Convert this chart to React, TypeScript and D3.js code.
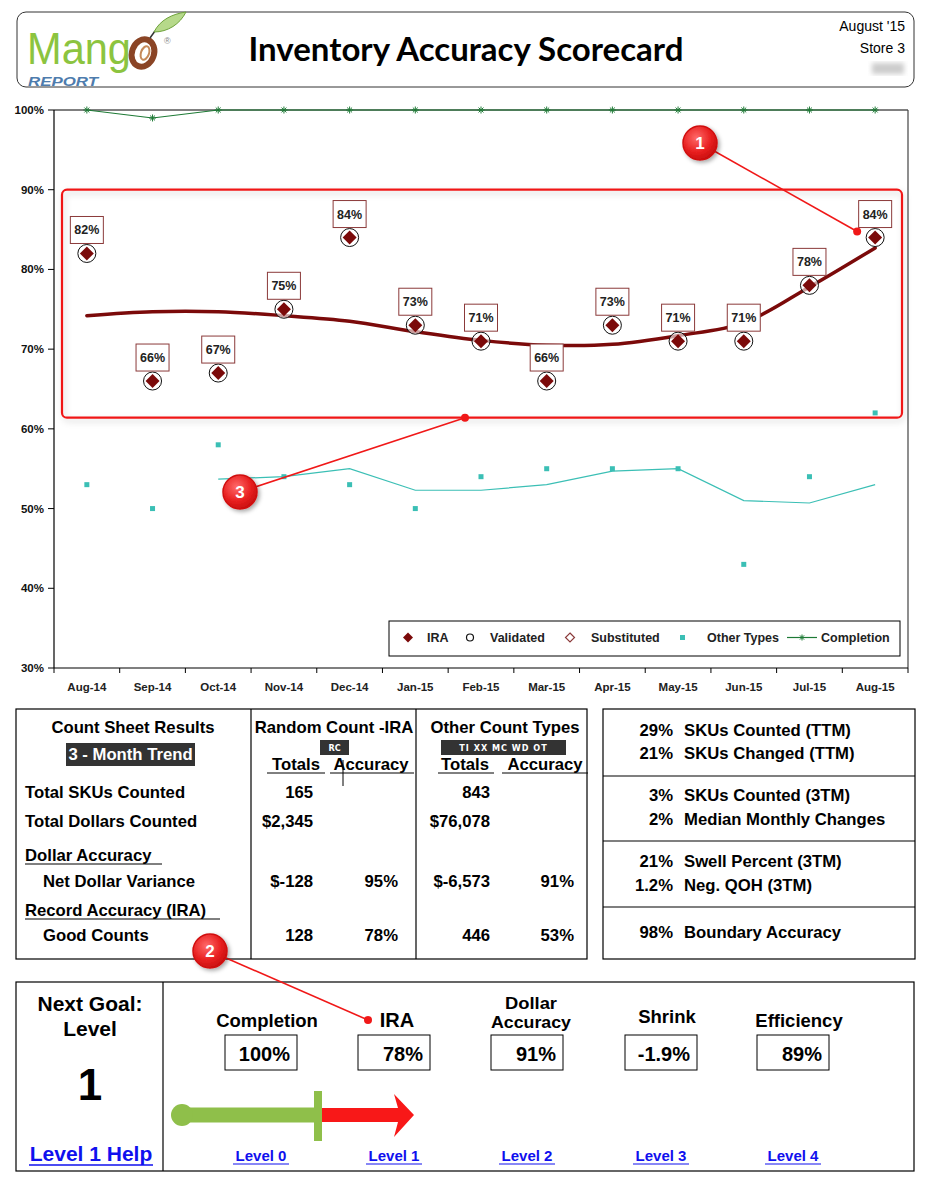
import React from 'react';
import * as d3 from 'd3';

const months = ['Aug-14','Sep-14','Oct-14','Nov-14','Dec-14','Jan-15','Feb-15','Mar-15','Apr-15','May-15','Jun-15','Jul-15','Aug-15'];
const iraValues = [82,66,67,75,84,73,71,66,73,71,71,78,84];
const validated = [true,true,true,true,true,true,true,true,true,true,true,true,true];
const iraTrend = [74.2,74.7,74.7,74.2,73.5,72.2,71.1,70.5,70.6,71.7,73.3,77.8,82.7];
const otherTypes = [53,50,58,54,53,50,54,55,55,55,43,54,62];
const otherTrend: (number|null)[] = [null,null,53.7,54,55,52.3,52.3,53,54.7,55,51,50.7,53];
const completion = [100,99,100,100,100,100,100,100,100,100,100,100,100];
const yTicks = [30,40,50,60,70,80,90,100];

const rcRows = [
  { label: 'Total SKUs Counted', indent: false, rcTot: '165', rcAcc: '', otTot: '843', otAcc: '' },
  { label: 'Total Dollars Counted', indent: false, rcTot: '$2,345', rcAcc: '', otTot: '$76,078', otAcc: '' },
  { label: 'Net Dollar Variance', indent: true, rcTot: '$-128', rcAcc: '95%', otTot: '$-6,573', otAcc: '91%' },
  { label: 'Good Counts', indent: true, rcTot: '128', rcAcc: '78%', otTot: '446', otAcc: '53%' },
];
const rowY = [793, 822, 882, 936];
const sideStats = [
  ['29%','SKUs Counted (TTM)'],['21%','SKUs Changed (TTM)'],
  ['3%','SKUs Counted (3TM)'],['2%','Median Monthly Changes'],
  ['21%','Swell Percent (3TM)'],['1.2%','Neg. QOH (3TM)'],
  ['98%','Boundary Accuracy'],
];
const sideY = [731,754,796,820,862,886,933];
const goalNames = [['Completion'],['IRA'],['Dollar','Accuracy'],['Shrink'],['Efficiency']];
const goalValues = ['100%','78%','91%','-1.9%','89%'];
const levels = ['Level 0','Level 1','Level 2','Level 3','Level 4'];

const AR = 'Arial, "Liberation Sans", sans-serif';
const DR = '#7b0a0a';
const TEAL = '#3bbfb5';
const GREEN = '#1d7a35';

function Callout({ cx, cy, tx, ty, n }: { cx: number; cy: number; tx: number; ty: number; n: string }) {
  return (
    <g>
      <line x1={cx} y1={cy} x2={tx} y2={ty} stroke="#f01818" strokeWidth={1.6} />
      <circle cx={tx} cy={ty} r={4} fill="#f01818" />
      <circle cx={cx} cy={cy} r={17} fill="url(#calloutGrad)" stroke="#d01010" strokeWidth={1.5} filter="url(#shadow)" />
      <text x={cx} y={cy + 6} textAnchor="middle" fill="#fff" fontFamily={AR} fontWeight="bold" fontSize={17}>{n}</text>
    </g>
  );
}

function Asterisk({ x, y, s = 3.5, color }: { x: number; y: number; s?: number; color: string }) {
  return (
    <g stroke={color} strokeWidth={1}>
      <line x1={x - s} y1={y} x2={x + s} y2={y} />
      <line x1={x} y1={y - s} x2={x} y2={y + s} />
      <line x1={x - s * 0.7} y1={y - s * 0.7} x2={x + s * 0.7} y2={y + s * 0.7} />
      <line x1={x - s * 0.7} y1={y + s * 0.7} x2={x + s * 0.7} y2={y - s * 0.7} />
    </g>
  );
}

export default function App() {
  const x = d3.scaleBand<string>().domain(months).range([54, 908]).padding(0);
  const y = d3.scaleLinear().domain([30, 100]).range([668, 110]);
  const cx = (m: string) => (x(m) as number) + x.bandwidth() / 2;

  const trendLine = d3.line<number>().x((_, i) => cx(months[i])).y(d => y(d)).curve(d3.curveCatmullRom.alpha(0.5));
  const otherLine = d3.line<number | null>().defined(d => d !== null).x((_, i) => cx(months[i])).y(d => y(d as number));
  const compLine = d3.line<number>().x((_, i) => cx(months[i])).y(d => y(d));

  const diamond = (px: number, py: number, s: number) => `M${px},${py - s}L${px + s},${py}L${px},${py + s}L${px - s},${py}Z`;

  const goalX = [261, 394, 527, 661, 793];
  const FS = 16.7;

  return (
    <div style={{ position: 'absolute', left: 0, top: 0 }}>
      <svg width={928} height={1179} style={{ display: 'block', background: '#fff' }}>
        <defs>
          <radialGradient id="calloutGrad" cx="40%" cy="35%" r="70%">
            <stop offset="0%" stopColor="#ff6a6a" />
            <stop offset="60%" stopColor="#e82020" />
            <stop offset="100%" stopColor="#c40c0c" />
          </radialGradient>
          <filter id="shadow" x="-50%" y="-50%" width="200%" height="200%">
            <feDropShadow dx="2" dy="2" stdDeviation="2" floodColor="#000" floodOpacity="0.35" />
          </filter>
          <filter id="softShadow" x="-5%" y="-5%" width="110%" height="110%">
            <feDropShadow dx="2" dy="3" stdDeviation="3" floodColor="#000" floodOpacity="0.18" />
          </filter>
          <filter id="blur"><feGaussianBlur stdDeviation="2.5" /></filter>
        </defs>

        {/* Header */}
        <rect x={17} y={12} width={897} height={75} rx={9} fill="#fff" stroke="#333" strokeWidth={1} />
        <text x={27} y={64} fill="#8cc43f" fontFamily={AR} fontSize={44} textLength={104} lengthAdjust="spacingAndGlyphs">Mang</text>
        <ellipse cx={143} cy={53} rx={11} ry={14} fill="none" stroke="#8a4425" strokeWidth={6} transform="rotate(20 143 53)" />
        <ellipse cx={145} cy={53} rx={4} ry={7} fill="none" stroke="#c58a5a" strokeWidth={2} transform="rotate(20 145 53)" />
        <line x1={150} y1={38} x2={155} y2={31} stroke="#333" strokeWidth={1.5} />
        <path d="M154,32 C160,20 172,14 186,12 C180,24 168,32 154,32 Z" fill="#b6d98a" stroke="#6ea23a" strokeWidth={1} />
        <text x={164} y={44} fill="#888" fontFamily={AR} fontSize={9}>®</text>
        <text x={28} y={86} fill="#4e7cad" fontFamily={AR} fontWeight="bold" fontStyle="italic" fontSize={13} textLength={70} lengthAdjust="spacingAndGlyphs">REPORT</text>
        <text x={466} y={61} textAnchor="middle" fontFamily='Lato, "Open Sans", sans-serif' fontWeight="bold" fontSize={33} fill="#000">Inventory Accuracy Scorecard</text>
        <text x={905} y={31} textAnchor="end" fontFamily={AR} fontSize={14}>August '15</text>
        <text x={905} y={53} textAnchor="end" fontFamily={AR} fontSize={14}>Store 3</text>
        <rect x={872} y={63} width={32} height={11} fill="#ccc" filter="url(#blur)" />

        {/* Chart frame */}
        <line x1={54} y1={y(100)} x2={908} y2={y(100)} stroke="#000" strokeWidth={1} />
        <line x1={908} y1={y(100)} x2={908} y2={y(30)} stroke="#444" strokeWidth={1.2} />
        <line x1={54} y1={y(100)} x2={54} y2={y(30)} stroke="#000" strokeWidth={1.2} />
        <line x1={54} y1={y(30)} x2={908} y2={y(30)} stroke="#000" strokeWidth={1.2} />
        {yTicks.map(t => (
          <g key={t}>
            <line x1={48} y1={y(t)} x2={54} y2={y(t)} stroke="#000" />
            <text x={44} y={y(t) + 4} textAnchor="end" fontFamily={AR} fontWeight="bold" fontSize={11.5} fill="#111">{t}%</text>
          </g>
        ))}
        {months.map((m, i) => (
          <g key={m}>
            <line x1={(x(m) as number)} y1={y(30)} x2={(x(m) as number)} y2={y(30) + 5} stroke="#000" />
            {i === months.length - 1 && <line x1={908} y1={y(30)} x2={908} y2={y(30) + 5} stroke="#000" />}
            <text x={cx(m)} y={691} textAnchor="middle" fontFamily={AR} fontWeight="bold" fontSize={11.5} fill="#222">{m}</text>
          </g>
        ))}

        {/* Highlight box */}
        <rect x={62} y={y(90)} width={840} height={y(61.4) - y(90)} rx={5} fill="none" stroke="#f01818" strokeWidth={2.2} filter="url(#softShadow)" />

        {/* Completion */}
        <path d={compLine(completion) as string} fill="none" stroke={GREEN} strokeWidth={1.2} />
        {completion.map((v, i) => <Asterisk key={i} x={cx(months[i])} y={y(v)} color={GREEN} />)}

        {/* Other types */}
        <path d={otherLine(otherTrend) as string} fill="none" stroke={TEAL} strokeWidth={1.2} />
        {otherTypes.map((v, i) => (
          <rect key={i} x={cx(months[i]) - 2.5} y={y(v) - 2.5} width={5} height={5} fill={TEAL} />
        ))}

        {/* IRA trend */}
        <path d={trendLine(iraTrend) as string} fill="none" stroke={DR} strokeWidth={3.5} strokeLinecap="round" />

        {/* IRA points */}
        {iraValues.map((v, i) => {
          const px = cx(months[i]);
          const py = y(v);
          return (
            <g key={i}>
              {validated[i] && <circle cx={px} cy={py} r={9} fill="#fff" fillOpacity={0.6} stroke="#111" strokeWidth={1} />}
              <path d={diamond(px, py, 7)} fill={DR} />
              <rect x={px - 16.5} y={py - 37} width={33} height={27} fill="#fff" stroke="#8b3a3a" strokeWidth={1} />
              <text x={px} y={py - 19} textAnchor="middle" fontFamily={AR} fontWeight="bold" fontSize={12.5} fill="#222">{v}%</text>
            </g>
          );
        })}

        {/* Legend */}
        <rect x={389} y={621} width={511} height={35} fill="#fff" stroke="#000" strokeWidth={1} />
        <path d={diamond(408, 637.5, 5)} fill={DR} />
        <text x={427} y={642} fontFamily={AR} fontWeight="bold" fontSize={12.5} fill="#222">IRA</text>
        <circle cx={470} cy={637.5} r={3.5} fill="none" stroke="#111" strokeWidth={1.2} />
        <text x={490} y={642} fontFamily={AR} fontWeight="bold" fontSize={12.5} fill="#222">Validated</text>
        <path d={diamond(570, 637.5, 4.5)} fill="#fff" stroke="#8b3a3a" strokeWidth={1.2} />
        <text x={591} y={642} fontFamily={AR} fontWeight="bold" fontSize={12.5} fill="#222">Substituted</text>
        <rect x={680} y={635} width={5} height={5} fill={TEAL} />
        <text x={707} y={642} fontFamily={AR} fontWeight="bold" fontSize={12.5} fill="#222">Other Types</text>
        <line x1={787} y1={637.5} x2={817} y2={637.5} stroke={GREEN} strokeWidth={1.2} />
        <Asterisk x={802} y={637.5} s={3} color={GREEN} />
        <text x={821} y={642} fontFamily={AR} fontWeight="bold" fontSize={12.5} fill="#222">Completion</text>

        {/* Left table */}
        <g fontFamily={AR} fontWeight="bold" fontSize={FS} fill="#000">
          <rect x={16} y={709} width={571} height={250} fill="none" stroke="#000" strokeWidth={1.2} />
          <line x1={251} y1={709} x2={251} y2={959} stroke="#000" strokeWidth={1.2} />
          <line x1={416} y1={709} x2={416} y2={959} stroke="#000" strokeWidth={1.2} />
          <text x={133} y={733} textAnchor="middle">Count Sheet Results</text>
          <rect x={66} y={743} width={129} height={23} fill="#333" />
          <text x={130.5} y={760} textAnchor="middle" fill="#fff">3 - Month Trend</text>
          <text x={334} y={733} textAnchor="middle">Random Count -IRA</text>
          <rect x={320} y={740} width={29} height={15} fill="#333" />
          <text x={334.5} y={751} textAnchor="middle" fill="#fff" fontSize={9} fontFamily='"DejaVu Sans Condensed", "Liberation Sans Narrow", sans-serif'>RC</text>
          <text x={296} y={770} textAnchor="middle">Totals</text>
          <text x={371} y={770} textAnchor="middle">Accuracy</text>
          <line x1={267} y1={773} x2={325} y2={773} stroke="#000" />
          <line x1={330} y1={773} x2={414} y2={773} stroke="#000" />
          <line x1={343} y1={760} x2={343} y2={786} stroke="#000" />
          <text x={505} y={733} textAnchor="middle">Other Count Types</text>
          <rect x={441} y={740} width={125} height={15} fill="#333" />
          <text x={503.5} y={751} textAnchor="middle" fill="#fff" fontSize={9} fontFamily='"DejaVu Sans Condensed", "Liberation Sans Narrow", sans-serif' letterSpacing={1}>TI XX MC WD OT</text>
          <text x={465} y={770} textAnchor="middle">Totals</text>
          <text x={545} y={770} textAnchor="middle">Accuracy</text>
          <line x1={438} y1={773} x2={494} y2={773} stroke="#000" />
          <line x1={502} y1={773} x2={588} y2={773} stroke="#000" />
          {rcRows.map((r, i) => (
            <g key={r.label}>
              <text x={r.indent ? 43 : 25} y={rowY[i] + 5}>{r.label}</text>
              <text x={313} y={rowY[i] + 5} textAnchor="end">{r.rcTot}</text>
              <text x={398} y={rowY[i] + 5} textAnchor="end">{r.rcAcc}</text>
              <text x={490} y={rowY[i] + 5} textAnchor="end">{r.otTot}</text>
              <text x={574} y={rowY[i] + 5} textAnchor="end">{r.otAcc}</text>
            </g>
          ))}
          <text x={25} y={861}>Dollar Accuracy</text>
          <line x1={25} y1={864} x2={162} y2={864} stroke="#000" />
          <text x={25} y={916}>Record Accuracy (IRA)</text>
          <line x1={25} y1={919} x2={220} y2={919} stroke="#000" />
        </g>

        {/* Right stats */}
        <g fontFamily={AR} fontWeight="bold" fontSize={FS} fill="#000">
          <rect x={603} y={709} width={312} height={250} fill="none" stroke="#000" strokeWidth={1.2} />
          {[776, 841, 907].map(v => <line key={v} x1={603} y1={v} x2={915} y2={v} stroke="#000" strokeWidth={1.2} />)}
          {sideStats.map((s, i) => (
            <g key={i}>
              <text x={673} y={sideY[i] + 5} textAnchor="end">{s[0]}</text>
              <text x={684} y={sideY[i] + 5}>{s[1]}</text>
            </g>
          ))}
        </g>

        {/* Bottom goals */}
        <g fontFamily={AR} fontWeight="bold" fill="#000">
          <rect x={16} y={982} width={898} height={189} fill="none" stroke="#000" strokeWidth={1.2} />
          <line x1={163} y1={982} x2={163} y2={1171} stroke="#000" strokeWidth={1.2} />
          <text x={90} y={1011} textAnchor="middle" fontSize={21}>Next Goal:</text>
          <text x={90} y={1036} textAnchor="middle" fontSize={21}>Level</text>
          <text x={90} y={1100} textAnchor="middle" fontSize={44}>1</text>
          <text x={91} y={1161} textAnchor="middle" fontSize={21} fill="#1010ee">Level 1 Help</text>
          <line x1={29} y1={1165} x2={153} y2={1165} stroke="#1010ee" strokeWidth={1.5} />
          {goalNames.map((g, i) => (
            <g key={i}>
              {g.length === 1 ? (
                <text x={goalX[i] + (i === 1 ? 3 : 6)} y={i === 3 ? 1023 : 1027} textAnchor="middle" fontSize={i === 1 ? 20 : 18.5}>{g[0]}</text>
              ) : (
                <>
                  <text x={goalX[i] + 4} y={1009} textAnchor="middle" fontSize={16} textLength={52} lengthAdjust="spacingAndGlyphs">{g[0]}</text>
                  <text x={goalX[i] + 4} y={1028} textAnchor="middle" fontSize={16} textLength={80} lengthAdjust="spacingAndGlyphs">{g[1]}</text>
                </>
              )}
              <rect x={goalX[i] - 36} y={1035} width={72} height={35} fill="#fff" stroke="#000" strokeWidth={1} />
              <text x={goalX[i] + 29} y={1061} textAnchor="end" fontSize={20}>{goalValues[i]}</text>
              <text x={goalX[i]} y={1161} textAnchor="middle" fontSize={15} fill="#1010ee">{levels[i]}</text>
              <line x1={goalX[i] - 28} y1={1164} x2={goalX[i] + 28} y2={1164} stroke="#1010ee" strokeWidth={1.2} />
            </g>
          ))}
          {/* Progress arrow */}
          <path d="M322,1108 L398,1108 L394,1094 L414,1115 L394,1137 L398,1122 L322,1122 Z" fill="#f81818" />
          <rect x={181} y={1107.5} width={137} height={15} fill="#8fbf4a" />
          <circle cx={182} cy={1115} r={11} fill="#8fbf4a" />
          <rect x={314} y={1091} width={8} height={50} fill="#8fbf4a" />
        </g>

        {/* Callouts */}
        <Callout cx={700} cy={143} tx={cx('Aug-15') - 18} ty={y(84) - 6} n="1" />
        <Callout cx={240} cy={492} tx={465} ty={y(61.4)} n="3" />
        <Callout cx={210} cy={951} tx={368} ty={1020} n="2" />
      </svg>
    </div>
  );
}
